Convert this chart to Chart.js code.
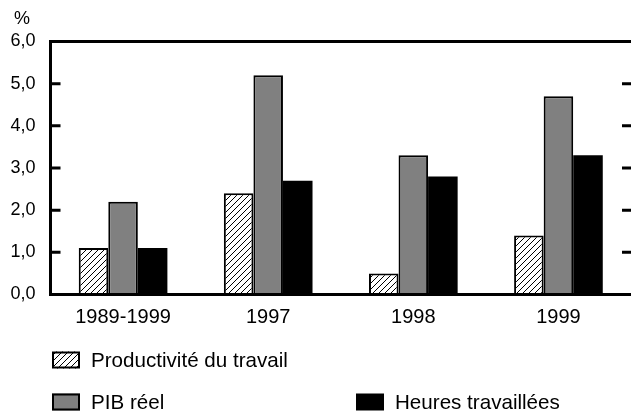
<!DOCTYPE html>
<html><head><meta charset="utf-8">
<script src="https://cdn.jsdelivr.net/npm/chart.js@4/dist/chart.umd.min.js"></script>
<style>html,body{margin:0;padding:0;background:#fff;overflow:hidden}</style>
</head><body>
<canvas id="c" width="631" height="413"></canvas>
<script>
const categories = ['1989-1999', '1997', '1998', '1999'];
const productivite = [1.1, 2.4, 0.5, 1.4];
const pibReel = [2.2, 5.2, 3.3, 4.7];
const heures = [1.1, 2.7, 2.8, 3.3];
const seriesNames = ['Productivité du travail', 'PIB réel', 'Heures travaillées'];
const yTickLabels = ['0,0', '1,0', '2,0', '3,0', '4,0', '5,0', '6,0'];
const yUnit = '%';

const FONT = '"Liberation Sans", Arial, sans-serif';

function makeHatch() {
  const s = 6;
  const pc = document.createElement('canvas');
  pc.width = s; pc.height = s;
  const p = pc.getContext('2d');
  p.fillStyle = '#fff';
  p.fillRect(0, 0, s, s);
  p.strokeStyle = '#000';
  p.lineWidth = 1;
  p.beginPath();
  p.moveTo(0, s); p.lineTo(s, 0);
  p.moveTo(-s / 2, s / 2); p.lineTo(s / 2, -s / 2);
  p.moveTo(s / 2, s * 1.5); p.lineTo(s * 1.5, s / 2);
  p.stroke();
  return p.createPattern(pc, 'repeat');
}
const ctx0 = document.getElementById('c').getContext('2d');
const hatch = makeHatch();

const fills = [hatch, '#808080', '#000000'];
const borders = [2, 2, 0];

const framePlugin = {
  id: 'frame',
  afterDatasetsDraw(chart) {
    const ctx = chart.ctx;
    const a = chart.chartArea;
    const W = chart.width;
    const ys = chart.scales.y;
    ctx.save();
    ctx.strokeStyle = '#000';
    ctx.lineWidth = 3;
    ctx.lineCap = 'butt';
    ctx.beginPath();
    ctx.moveTo(a.left, a.bottom); ctx.lineTo(W + 2, a.bottom);
    ctx.moveTo(a.left, a.top); ctx.lineTo(W + 2, a.top);
    ctx.moveTo(a.left, a.top - 1.5); ctx.lineTo(a.left, a.bottom + 1.5);
    for (let i = 1; i < yTickLabels.length - 1; i++) {
      const y = ys.getPixelForValue(i);
      ctx.moveTo(a.left, y); ctx.lineTo(a.left + 10, y);
      ctx.moveTo(W - 9, y); ctx.lineTo(W + 2, y);
    }
    ctx.stroke();
    ctx.restore();
  },
  afterDraw(chart) {
    const ctx = chart.ctx;
    ctx.save();
    ctx.fillStyle = '#000';
    ctx.font = '18px ' + FONT;
    ctx.textAlign = 'center';
    ctx.textBaseline = 'middle';
    ctx.fillText(yUnit, 22, 19);
    // legend
    const items = [
      {x: 52, y: 360, i: 0},
      {x: 52, y: 402, i: 1},
      {x: 356, y: 402, i: 2}
    ];
    ctx.font = '20.6px ' + FONT;
    ctx.textAlign = 'left';
    items.forEach(it => {
      const ds = chart.data.datasets[it.i];
      const bw = 28, bh = 17;
      ctx.fillStyle = ds.backgroundColor;
      ctx.fillRect(it.x, it.y - bh / 2, bw, bh);
      if (ds.borderWidth > 0) {
        ctx.strokeStyle = '#000';
        ctx.lineWidth = 2;
        ctx.strokeRect(it.x + 1, it.y - bh / 2 + 1, bw - 2, bh - 2);
      }
      ctx.fillStyle = '#000';
      ctx.fillText(ds.label, it.x + bw + 11, it.y + 1);
    });
    ctx.restore();
  }
};

new Chart(ctx0, {
  type: 'bar',
  data: {
    labels: categories,
    datasets: [productivite, pibReel, heures].map((d, i) => ({
      label: seriesNames[i],
      data: d,
      backgroundColor: fills[i],
      borderColor: '#000',
      borderWidth: borders[i],
      borderSkipped: 'start',
      categoryPercentage: 0.611,
      barPercentage: 1.0
    }))
  },
  options: {
    responsive: false,
    devicePixelRatio: 1,
    animation: false,
    layout: { padding: { left: 0, top: 41.5, right: -2.4, bottom: 78.5 } },
    plugins: { legend: { display: false }, tooltip: { enabled: false } },
    scales: {
      x: {
        grid: { display: false, drawTicks: false },
        border: { display: false },
        ticks: { color: '#000', font: { family: FONT, size: 20 }, padding: 11, maxRotation: 0 },
        afterFit(s) { s.height = 40; }
      },
      y: {
        min: 0, max: 6,
        grid: { display: false, drawTicks: false },
        border: { display: false },
        ticks: {
          stepSize: 1,
          color: '#000',
          font: { family: FONT, size: 18 },
          padding: 15,
          callback: (v) => yTickLabels[Math.round(v)]
        },
        afterFit(s) { s.width = 50.5; }
      }
    }
  },
  plugins: [framePlugin]
});
</script>
</body></html>
